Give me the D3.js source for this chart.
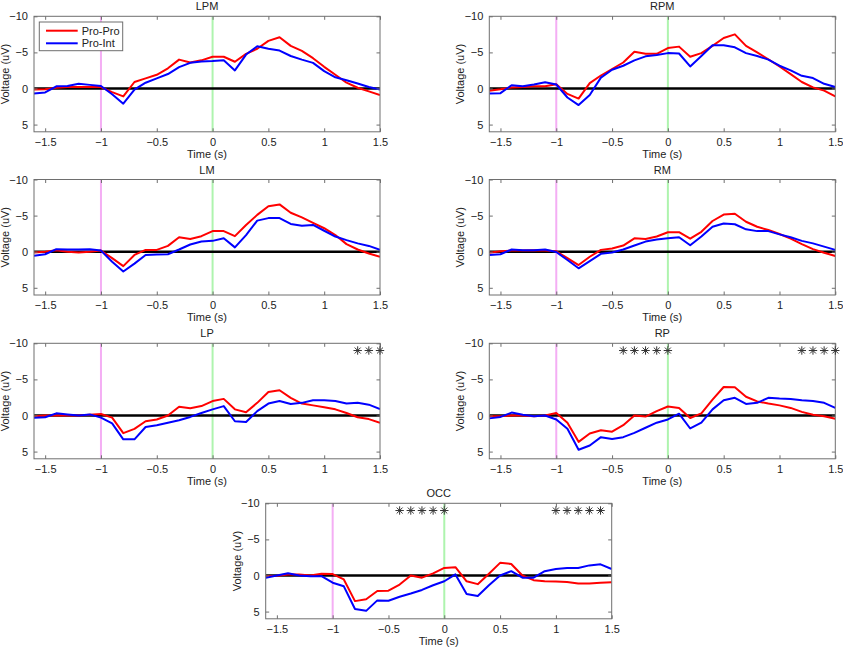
<!DOCTYPE html>
<html>
<head>
<meta charset="utf-8">
<script src="https://cdn.jsdelivr.net/npm/d3@7"></script>
<style>
  body { margin: 0; background: #fff; }
  svg { display: block; font-family: "Liberation Sans", Arial, sans-serif; }
</style>
</head>
<body>
<svg id="chart" width="843" height="648"></svg>
<script>
// time samples (s)
const times = [-1.6, -1.5, -1.4, -1.3, -1.2, -1.1, -1.0, -0.9, -0.8, -0.7, -0.6, -0.5,
  -0.4, -0.3, -0.2, -0.1, 0, 0.1, 0.2, 0.3, 0.4, 0.5, 0.6, 0.7, 0.8, 0.9, 1.0, 1.1,
  1.2, 1.3, 1.4, 1.5];

const xTicks = [-1.5, -1, -0.5, 0, 0.5, 1, 1.5];
const yTicks = [-10, -5, 0, 5];
const seriesNames = ['Pro-Pro', 'Pro-Int'];
const regions = ['LPM', 'RPM', 'LM', 'RM', 'LP', 'RP', 'OCC'];

// voltages (uV), Pro-Pro condition
const proProLPM = [0.15, 0.1, -0.1, -0.2, -0.2, -0.2, -0.2, 0.5, 1.1, -0.9, -1.4, -1.9,
  -2.8, -4.0, -3.6, -3.9, -4.4, -4.4, -3.7, -4.8, -5.5, -6.6, -7.1, -5.9, -5.2, -4.2,
  -3.0, -1.9, -0.8, -0.1, 0.4, 0.9];
const proProRPM = [0.3, 0.1, -0.15, -0.2, -0.3, -0.3, -0.6, 0.75, 1.4, -0.75, -1.8, -2.7,
  -3.6, -5.1, -4.8, -4.8, -5.6, -5.8, -4.4, -4.9, -5.9, -7.0, -7.5, -5.9, -5.0, -4.05,
  -3.05, -2.0, -0.9, -0.15, 0.3, 1.1];
const proProLM = [0.1, 0, -0.2, 0, 0.1, 0, -0.15, 0.9, 2.0, 0.45, -0.25, -0.25,
  -0.8, -2.0, -1.75, -2.15, -2.85, -2.85, -2.15, -3.7, -5.1, -6.3, -6.55, -5.4, -4.75, -4.0,
  -3.25, -2.3, -1.05, -0.3, 0.25, 0.7];
const proProRM = [0.15, -0.05, -0.15, -0.15, -0.2, -0.15, -0.05, 0.9, 1.85, 0.7, -0.25, -0.45,
  -0.85, -1.85, -1.75, -2.1, -2.7, -2.7, -1.8, -2.75, -4.25, -5.15, -5.25, -4.15, -3.45, -3.0,
  -2.45, -1.8, -1.05, -0.35, 0.15, 0.6];
const proProLP = [0.1, 0, 0, 0, 0, -0.1, -0.2, 0.3, 2.45, 1.85, 0.8, 0.55,
  0, -1.2, -1.0, -1.3, -2.0, -2.3, -0.85, -0.45, -1.75, -3.25, -3.5, -2.45, -1.65, -1.4,
  -1.15, -0.85, -0.35, 0.25, 0.5, 1.0];
const proProRP = [0.1, 0.1, 0, 0, 0.1, 0, -0.35, 1.0, 3.65, 2.5, 2.05, 2.25,
  1.35, 0, 0.15, -0.6, -1.25, -1.05, 0.35, -0.3, -2.2, -3.95, -3.9, -2.6, -1.95, -1.65,
  -1.4, -1.05, -0.5, -0.1, 0.1, 0.45];
const proProOCC = [0.1, 0.05, -0.15, -0.15, 0, -0.25, -0.2, 0.55, 3.55, 3.3, 2.15, 2.1,
  1.25, 0, 0.3, -0.3, -1.05, -1.15, 0.8, 1.2, -0.25, -1.75, -1.6, 0, 0.65, 0.8,
  0.85, 0.9, 1.1, 1.1, 1.0, 0.95];

// voltages (uV), Pro-Int condition
const proIntLPM = [0.7, 0.55, -0.3, -0.35, -0.65, -0.5, -0.35, 0.8, 2.1, 0.15, -0.8, -1.4,
  -2.0, -2.95, -3.55, -3.75, -3.8, -3.9, -2.5, -4.7, -5.85, -5.5, -5.25, -4.5, -4.0, -3.55,
  -2.4, -1.55, -1.15, -0.7, -0.2, 0.15];
const proIntRPM = [0.7, 0.65, -0.45, -0.3, -0.55, -0.85, -0.55, 1.25, 2.3, 0.9, -1.5, -2.6,
  -3.15, -3.9, -4.45, -4.65, -4.9, -4.85, -3.05, -4.5, -6.0, -6.0, -5.7, -4.9, -4.5, -4.0,
  -3.15, -2.5, -1.75, -1.45, -0.65, -0.2];
const proIntLM = [0.55, 0.35, -0.35, -0.3, -0.3, -0.35, -0.15, 1.4, 2.75, 1.65, 0.45, 0.4,
  0.35, -0.3, -1.0, -1.4, -1.5, -1.85, -0.6, -2.3, -4.3, -4.65, -4.65, -3.85, -3.6, -3.7,
  -2.9, -2.1, -1.6, -1.15, -0.8, -0.25];
const proIntRM = [0.45, 0.35, -0.3, -0.2, -0.2, -0.3, 0.05, 1.15, 2.3, 1.3, 0.3, 0.1,
  -0.3, -0.85, -1.4, -1.7, -1.85, -2.0, -0.9, -2.1, -3.45, -3.9, -3.8, -3.1, -2.85, -2.85,
  -2.4, -2.0, -1.5, -1.15, -0.7, -0.25];
const proIntLP = [0.3, 0.25, -0.3, -0.15, 0, -0.15, 0.3, 1.1, 3.3, 3.3, 1.6, 1.35,
  1.0, 0.65, 0.2, -0.35, -0.85, -1.3, 0.8, 0.9, -0.6, -1.65, -2.0, -1.6, -1.75, -2.1,
  -2.1, -2.0, -1.65, -1.75, -1.5, -0.9];
const proIntRP = [0.4, 0.2, -0.4, -0.1, 0.1, 0, 0.55, 1.85, 4.75, 4.15, 3.0, 3.25,
  3.0, 2.4, 1.7, 1.0, 0.55, -0.25, 1.8, 1.0, -0.85, -2.1, -2.45, -1.6, -1.75, -2.45,
  -2.35, -2.3, -2.1, -2.0, -1.75, -1.05];
const proIntOCC = [0.3, 0, -0.3, 0, 0.1, 0.1, 1.0, 1.5, 4.65, 4.9, 3.45, 3.5,
  2.95, 2.5, 2.0, 1.35, 0.8, -0.15, 2.55, 2.85, 1.35, 0, -0.6, 0.3, 0.3, -0.6,
  -0.9, -1.05, -1.05, -1.4, -1.55, -0.9];

// significance markers (time points)
const sigLP = [1.3, 1.4, 1.5];
const sigRP = [-0.4, -0.3, -0.2, -0.1, 0, 1.2, 1.3, 1.4, 1.5];
const sigOCC = [-0.4, -0.3, -0.2, -0.1, 0, 1.0, 1.1, 1.2, 1.3, 1.4];

const proPro = { LPM: proProLPM, RPM: proProRPM, LM: proProLM, RM: proProRM, LP: proProLP, RP: proProRP, OCC: proProOCC };
const proInt = { LPM: proIntLPM, RPM: proIntRPM, LM: proIntLM, RM: proIntRM, LP: proIntLP, RP: proIntRP, OCC: proIntOCC };
const sig = { LP: sigLP, RP: sigRP, OCC: sigOCC };

// panel placement
const panelW = 346, panelH = 115.5;
const boxes = {
  LPM: [34, 16.3], RPM: [489.3, 16.3],
  LM: [34, 179.5], RM: [489.3, 179.5],
  LP: [34, 343.3], RP: [489.3, 343.3],
  OCC: [265.7, 503.3]
};

const svg = d3.select('#chart');
const axisGray = '#6e6e6e';

const x = d3.scaleLinear().domain([-1.6, 1.5]).range([0, panelW]);
const y = d3.scaleLinear().domain([-10, 6]).range([0, panelH]);

function starPath(r) {
  const d = r * Math.SQRT1_2;
  return `M${-r},0L${r},0M0,${-r}L0,${r}M${-d},${-d}L${d},${d}M${-d},${d}L${d},${-d}`;
}

regions.forEach((name, i) => {
  const [bx, by] = boxes[name];
  const g = svg.append('g').attr('transform', `translate(${bx},${by})`);

  g.append('rect').attr('width', panelW).attr('height', panelH).attr('fill', '#fff');

  const clipId = 'clip' + i;
  g.append('clipPath').attr('id', clipId)
    .append('rect').attr('width', panelW).attr('height', panelH);

  const plot = g.append('g').attr('clip-path', `url(#${clipId})`);

  // event markers
  plot.append('line')
    .attr('x1', x(-1)).attr('x2', x(-1)).attr('y1', 0).attr('y2', panelH)
    .attr('stroke', '#f4aef4').attr('stroke-width', 2);
  plot.append('line')
    .attr('x1', x(0)).attr('x2', x(0)).attr('y1', 0).attr('y2', panelH)
    .attr('stroke', '#aef4ae').attr('stroke-width', 2);

  // zero line
  plot.append('line')
    .attr('x1', 0).attr('x2', panelW).attr('y1', y(0)).attr('y2', y(0))
    .attr('stroke', '#000').attr('stroke-width', 2.5);

  const line = d3.line().x((d, j) => x(times[j])).y(d => y(d));

  plot.append('path').datum(proPro[name])
    .attr('fill', 'none').attr('stroke', '#ff0000').attr('stroke-width', 2)
    .attr('stroke-linejoin', 'round').attr('d', line);
  plot.append('path').datum(proInt[name])
    .attr('fill', 'none').attr('stroke', '#0000ff').attr('stroke-width', 2)
    .attr('stroke-linejoin', 'round').attr('d', line);

  // axes: ticks inward on all sides
  const tickLen = 3.5;
  g.append('g').attr('transform', `translate(0,${panelH})`)
    .call(d3.axisBottom(x).tickValues(xTicks).tickSize(-tickLen).tickPadding(6).tickFormat(d3.format('')))
    .call(a => a.select('.domain').remove());
  g.append('g')
    .call(d3.axisTop(x).tickValues(xTicks).tickSize(-tickLen).tickFormat(''))
    .call(a => a.select('.domain').remove());
  g.append('g')
    .call(d3.axisLeft(y).tickValues(yTicks).tickSize(-tickLen).tickPadding(6).tickFormat(d3.format('')))
    .call(a => a.select('.domain').remove());
  g.append('g').attr('transform', `translate(${panelW},0)`)
    .call(d3.axisRight(y).tickValues(yTicks).tickSize(-tickLen).tickFormat(''))
    .call(a => a.select('.domain').remove());

  g.selectAll('.tick line').attr('stroke', axisGray);
  g.selectAll('.tick text').attr('fill', '#222').style('font-size', '11px')
    .style('font-family', '"Liberation Sans", Arial, sans-serif');

  g.append('rect').attr('width', panelW).attr('height', panelH)
    .attr('fill', 'none').attr('stroke', axisGray).attr('stroke-width', 1);

  // significance stars
  if (sig[name]) {
    g.selectAll('path.star').data(sig[name]).join('path')
      .attr('class', 'star')
      .attr('transform', d => `translate(${x(d)},${y(-9)})`)
      .attr('d', starPath(4.2))
      .attr('stroke', '#333').attr('stroke-width', 1).attr('fill', 'none');
  }

  // labels
  g.append('text').attr('x', panelW / 2).attr('y', -6)
    .attr('text-anchor', 'middle').style('font-size', '11px').attr('fill', '#222').text(name);
  g.append('text').attr('x', panelW / 2).attr('y', panelH + 26)
    .attr('text-anchor', 'middle').style('font-size', '11px').attr('fill', '#222').text('Time (s)');
  g.append('text')
    .attr('transform', `translate(-25,${panelH / 2}) rotate(-90)`)
    .attr('text-anchor', 'middle').style('font-size', '11px').attr('fill', '#222').text('Voltage (uV)');

  // legend in first panel
  if (name === 'LPM') {
    const lg = g.append('g').attr('transform', 'translate(5.3,5.7)');
    lg.append('rect').attr('width', 83.4).attr('height', 28.7)
      .attr('fill', '#fff').attr('stroke', axisGray).attr('stroke-width', 1);
    const colors = ['#ff0000', '#0000ff'];
    seriesNames.forEach((s, k) => {
      const yy = 8.7 + k * 12.6;
      lg.append('line').attr('x1', 6.7).attr('x2', 38.4).attr('y1', yy).attr('y2', yy)
        .attr('stroke', colors[k]).attr('stroke-width', 2);
      lg.append('text').attr('x', 42.4).attr('y', yy + 4)
        .style('font-size', '11px').attr('fill', '#222').text(s);
    });
  }
});
</script>
</body>
</html>
